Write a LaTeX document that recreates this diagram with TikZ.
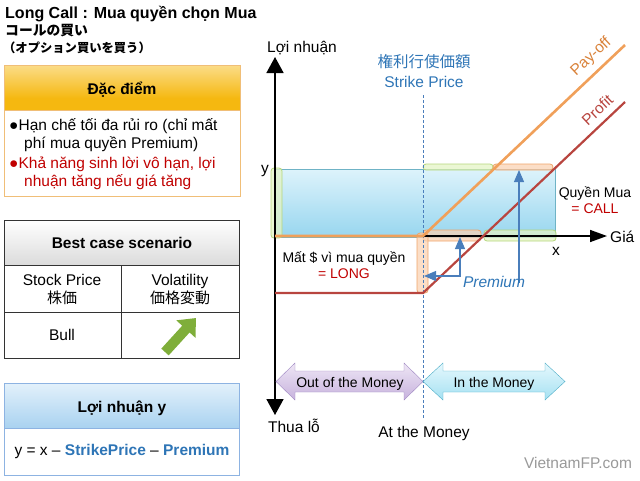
\documentclass[tikz,border=0pt]{standalone}
\usepackage{fontspec}
\setmainfont{Liberation Sans}
\newfontfamily\jp{Noto Sans CJK JP}
\usetikzlibrary{arrows.meta}

\definecolor{payoff}{HTML}{F0A05A}
\definecolor{paytxt}{HTML}{D9823A}
\definecolor{profit}{HTML}{B8453F}
\definecolor{txtred}{HTML}{C00000}
\definecolor{txtblue}{HTML}{2E75B6}
\definecolor{arrblue}{HTML}{4A7EBB}
\definecolor{hlgreen}{HTML}{E4F4C6}
\definecolor{hlgreenb}{HTML}{B5D67C}
\definecolor{hlorange}{HTML}{FAD3B4}
\definecolor{hlorangeb}{HTML}{EFA56A}
\definecolor{calltop}{HTML}{DDF3FB}
\definecolor{callbot}{HTML}{98D6EF}
\definecolor{callline}{HTML}{6FB3C6}
\definecolor{hdrtop}{HTML}{FFF5DA}
\definecolor{hdrmid}{HTML}{F5B810}
\definecolor{hdrlow}{HTML}{FBD98E}
\definecolor{hdrline}{HTML}{F0BE78}
\definecolor{bluetop}{HTML}{E3F1FB}
\definecolor{bluebot}{HTML}{A9D2F0}
\definecolor{blueline}{HTML}{8DB3E2}
\definecolor{otmtop}{HTML}{EEE6F5}
\definecolor{otmbot}{HTML}{C7B2DD}
\definecolor{otmline}{HTML}{9F88C2}
\definecolor{itmtop}{HTML}{E6F8FD}
\definecolor{itmbot}{HTML}{A5E1F2}
\definecolor{itmline}{HTML}{4BACC6}
\definecolor{greenarr}{HTML}{7FAE3A}

\pgfdeclareverticalshading{hdrshade}{100bp}{color(0bp)=(hdrlow); color(22bp)=(hdrmid); color(38bp)=(hdrmid); color(100bp)=(hdrtop)}

\begin{document}
\begin{tikzpicture}[x=1pt,y=-1pt,
    txt/.style={font=\fontsize{15.5}{19}\selectfont, inner sep=0pt, anchor=base},
    sml/.style={font=\fontsize{14}{17}\selectfont, inner sep=0pt, anchor=base},
    axis/.style={black, line width=1.6pt},
    payline/.style={payoff, line width=2.6pt},
    proline/.style={profit, line width=2.2pt},
    hlg/.style={fill=hlgreen, draw=hlgreenb, fill opacity=0.75, rounded corners=3pt, line width=0.8pt},
    hlo/.style={fill=hlorange, draw=hlorangeb, fill opacity=0.75, rounded corners=3pt, line width=0.8pt},
    barrow/.style={arrblue, line width=1.1pt}]
    \useasboundingbox (0,0) rectangle (640,480);

    % --- Title ---
    \node[txt, anchor=base west, font=\fontsize{16}{19}\selectfont\bfseries] (title) at (5,18) {Long Call : Mua quyền chọn Mua};
    \node[txt, anchor=base west, font=\fontsize{13.8}{16}\selectfont\jp\bfseries] (jp1) at (5,35) {コールの買い};
    \node[txt, anchor=base west, font=\fontsize{12.3}{16}\selectfont\jp\bfseries] (jp2) at (3,52) {（オプション買いを買う）};

    % --- Dac diem box ---
    \shade[shading=hdrshade] (4,65) rectangle (240,110);
    \draw[hdrline] (4,65) rectangle (240,196);
    \draw[hdrline] (4,110) -- (240,110);
    \node[txt, font=\fontsize{15.5}{19}\selectfont\bfseries] (dd) at (122,94) {Đặc điểm};
    \node[txt, anchor=base west] (pt1) at (9,130) {●Hạn chế tối đa rủi ro (chỉ mất};
    \node[txt, anchor=base west] (pt1b) at (24,148) {phí mua quyền Premium)};
    \node[txt, anchor=base west, txtred] (pt2) at (9,168) {●Khả năng sinh lời vô hạn, lợi};
    \node[txt, anchor=base west, txtred] (pt2b) at (24,186) {nhuận tăng nếu giá tăng};

    % --- Best case table ---
    \shade[top color=white, bottom color=black!14] (4,220) rectangle (239,265);
    \draw[black!80] (4,220) rectangle (239,358);
    \draw[black!80] (4,265) -- (239,265) (4,312) -- (239,312) (121,265) -- (121,358);
    \node[txt, font=\fontsize{15.5}{19}\selectfont\bfseries] (best) at (122,248) {Best case scenario};
    \node[txt] (stock) at (62,285) {Stock Price};
    \node[txt, font=\fontsize{15}{19}\selectfont\jp] (kabu) at (62,303) {株価};
    \node[txt] (vol) at (180,285) {Volatility};
    \node[txt, font=\fontsize{15}{19}\selectfont\jp] (hendo) at (180,303) {価格変動};
    \node[txt] (bull) at (62,340) {Bull};
    \draw[greenarr, line width=10pt, -{Triangle[length=15pt,width=25pt]}] (165,352) -- (196,318);

    % --- Loi nhuan box ---
    \shade[top color=bluetop, bottom color=bluebot] (4,383) rectangle (239,428);
    \draw[blueline] (4,383) rectangle (239,475);
    \draw[blueline] (4,428) -- (239,428);
    \node[txt, font=\fontsize{15.5}{19}\selectfont\bfseries] (ln) at (122,412) {Lợi nhuận y};
    \node[txt] (formula) at (122,455) {y = x – \textcolor{txtblue}{\bfseries StrikePrice} – \textcolor{txtblue}{\bfseries Premium}};

    % --- Chart points ---
    \coordinate (O) at (275,236);
    \coordinate (ytop) at (275,57);
    \coordinate (ybot) at (275,415);
    \coordinate (xend) at (607,236);
    \coordinate (K) at (423,236);
    \coordinate (Kp) at (423,293);
    \coordinate (P0) at (275,293);
    \coordinate (payend) at (625,45);
    \coordinate (proend) at (625,102);
    \coordinate (ktop) at (423,95);
    \coordinate (kbot) at (423,418);

    % --- Call area and highlights ---
    \shade[top color=calltop, bottom color=callbot] (275,169) rectangle (555,237);
    \draw[callline] (275,169) rectangle (555,237);
    \draw[hlg] (271,168) rectangle (282,238);
    \draw[hlg] (423,164) rectangle (493,170);
    \draw[hlo] (493,164) rectangle (553,170);
    \draw[hlo] (423,230) rectangle (481,241);
    \draw[hlg] (484,230) rectangle (556,241);
    \draw[hlo] (417,233) rectangle (428,293);

    % --- Strike line ---
    \draw[arrblue, line width=0.7pt, dash pattern=on 3pt off 2pt] (ktop) -- (kbot);

    % --- Axes ---
    \draw[axis, -{Triangle[length=17pt,width=12pt]}] (O) -- (xend);
    \draw[axis, {Triangle[length=16pt,width=17pt]}-{Triangle[length=16pt,width=17pt]}] (ybot) -- (ytop);

    % --- Pay-off and profit ---
    \draw[payline] (O) -- (K) -- (payend);
    \draw[proline] (P0) -- (Kp) -- (proend);

    % --- Premium arrows ---
    \coordinate (bigtail) at (519,283);
    \coordinate (bighead) at (519,170);
    \coordinate (elA) at (424,276);
    \coordinate (elB) at (460,237);
    \draw[barrow, -{Triangle[length=12pt,width=10pt]}] (bigtail) -- (bighead);
    \draw[barrow, {Triangle[length=12pt,width=10pt]}-{Triangle[length=12pt,width=10pt]}] (elA) -| (elB);

    % --- Money zones ---
    \draw[otmline, top color=otmtop, bottom color=otmbot] (276,381.5) -- (295,363) -- (295,371) -- (404,371) -- (404,363) -- (423,381.5) -- (404,400) -- (404,392) -- (295,392) -- (295,400) -- cycle;
    \draw[itmline, top color=itmtop, bottom color=itmbot] (423,381.5) -- (443,363) -- (443,371) -- (545,371) -- (545,363) -- (565,381.5) -- (545,400) -- (545,392) -- (443,392) -- (443,400) -- cycle;
    \node[sml] (otm) at (350,387) {Out of the Money};
    \node[sml] (itm) at (494,387) {In the Money};

    % --- Labels ---
    \node[txt] (gain) at (302,52) {Lợi nhuận};
    \node[txt] (loss) at (294,432) {Thua lỗ};
    \node[txt, anchor=base west] (gia) at (610,242) {Giá};
    \node[txt, txtblue, font=\fontsize{15.5}{19}\selectfont\jp] (kjp) at (424,67) {権利行使価額};
    \node[txt, txtblue] (kprice) at (424,87) {Strike Price};
    \node[txt] (atm) at (424,437) {At the Money};
    \node[txt] (ylab) at (265,173) {y};
    \node[txt] (xlab) at (556,255) {x};
    \node[sml] (call1) at (595,197) {Quyền Mua};
    \node[sml, txtred] (call2) at (595,213) {= CALL};
    \node[sml] (long1) at (344,262) {Mất \$ vì mua quyền};
    \node[sml, txtred] (long2) at (344,278) {= LONG};
    \node[txt, txtblue, font=\fontsize{15.5}{19}\selectfont\itshape] (prem) at (494,287) {Premium};
    \node[txt, paytxt, rotate=43] (paylab) at (594,60) {Pay-off};
    \node[txt, profit, rotate=43] (prolab) at (601,114) {Profit};
    \node[txt, black!40] (site) at (578,468) {VietnamFP.com};
\end{tikzpicture}
\end{document}
